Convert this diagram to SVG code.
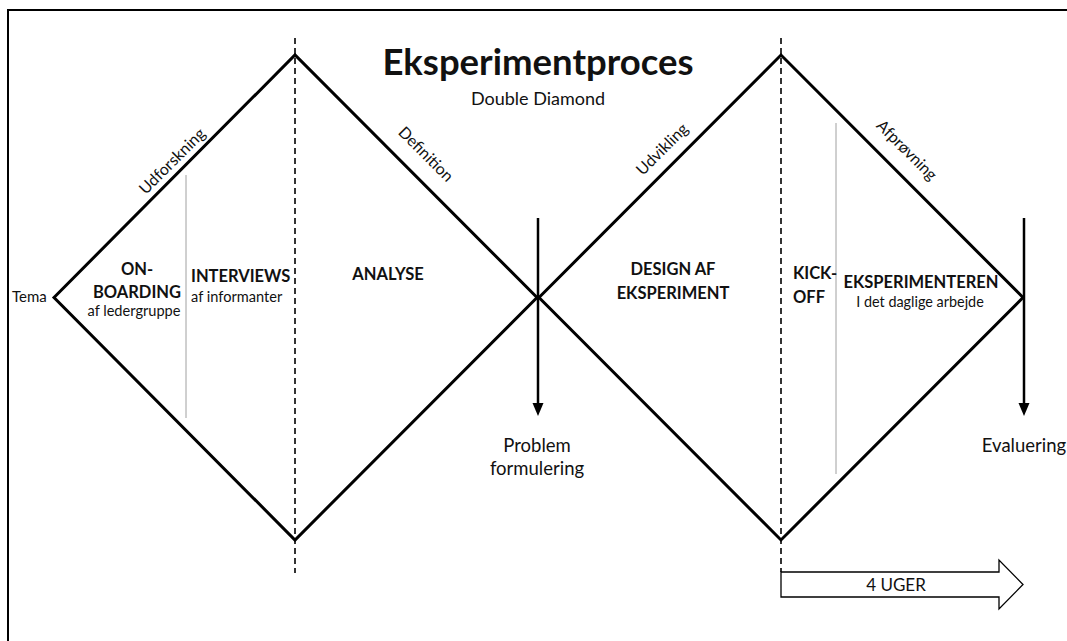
<svg xmlns="http://www.w3.org/2000/svg" width="1067" height="641" viewBox="0 0 1067 641">
  <style>
    text { font-family: Lato, "Open Sans", "Liberation Sans", sans-serif; fill: #111; }
    .title { font-size: 36.5px; font-weight: 700; text-anchor: middle; }
    .sub { font-size: 18px; text-anchor: middle; }
    .phase { font-size: 16px; text-anchor: middle; }
    .head { font-size: 16.5px; font-weight: 700; }
    .note { font-size: 14.6px; }
    .lbl { font-size: 18.5px; text-anchor: middle; }
    .mid { text-anchor: middle; }
    .diamond { fill: none; stroke: #000; stroke-width: 3; stroke-linejoin: miter; }
    .dash { stroke: #333; stroke-width: 2; stroke-dasharray: 6 4; fill: none; }
    .divider { stroke: #a0a0a0; stroke-width: 1; fill: none; }
    .shaft { stroke: #000; stroke-width: 2.5; fill: none; }
  </style>

  <rect width="1067" height="641" fill="#fff"/>
  <!-- outer frame (left and top edges) -->
  <path d="M8,641 V10 H1067" fill="none" stroke="#000" stroke-width="2"/>

  <g id="title">
    <text class="title" x="538" y="75">Eksperimentproces</text>
    <text class="sub" x="538" y="105">Double Diamond</text>
  </g>

  <g id="connectors">
    <!-- stage separators -->
    <line class="dash" x1="295" y1="38" x2="295" y2="573"/>
    <line class="dash" x1="781" y1="38" x2="781" y2="572"/>
    <!-- sub-phase dividers -->
    <line class="divider" x1="186" y1="175" x2="186" y2="418"/>
    <line class="divider" x1="836" y1="123" x2="836" y2="474"/>
    <!-- outcome arrows -->
    <line class="shaft" x1="538" y1="218" x2="538" y2="404"/>
    <path d="M532.5,403 L543.5,403 L538,416 Z" fill="#000"/>
    <line class="shaft" x1="1024" y1="218" x2="1024" y2="404"/>
    <path d="M1018.5,403 L1029.5,403 L1024,416 Z" fill="#000"/>
  </g>

  <g id="diamond-1">
    <path class="diamond" d="M54,297.5 L295,55 L537,297.5 L295,540 Z"/>
    <text class="phase" transform="translate(176,165) rotate(-45)">Udforskning</text>
    <text class="phase" transform="translate(422,158) rotate(45)">Definition</text>
  </g>

  <g id="diamond-2">
    <path class="diamond" d="M539,297.5 L781,55 L1023,297.5 L781,540 Z"/>
    <text class="phase" transform="translate(666,153) rotate(-45)">Udvikling</text>
    <text class="phase" transform="translate(903,154) rotate(45)">Afprøvning</text>
  </g>

  <g id="tema">
    <text class="note" x="12" y="302" style="font-size:15px">Tema</text>
  </g>

  <g id="onboarding">
    <text class="head mid" x="137" y="275">ON-</text>
    <text class="head mid" x="137" y="298">BOARDING</text>
    <text class="note mid" x="134" y="316">af ledergruppe</text>
  </g>

  <g id="interviews">
    <text class="head" x="191" y="282">INTERVIEWS</text>
    <text class="note" x="191" y="302">af informanter</text>
  </g>

  <g id="analyse">
    <text class="head mid" x="388" y="280">ANALYSE</text>
  </g>

  <g id="problemformulering">
    <text class="lbl" x="537" y="452">Problem</text>
    <text class="lbl" x="537" y="475">formulering</text>
  </g>

  <g id="design">
    <text class="head mid" x="673" y="275">DESIGN AF</text>
    <text class="head mid" x="673" y="299">EKSPERIMENT</text>
  </g>

  <g id="kickoff">
    <text class="head" x="793" y="279">KICK-</text>
    <text class="head" x="793" y="303">OFF</text>
  </g>

  <g id="eksperimenteren">
    <text class="head mid" x="921" y="288">EKSPERIMENTEREN</text>
    <text class="note mid" x="920" y="307" style="font-size:14.4px">I det daglige arbejde</text>
  </g>

  <g id="evaluering">
    <text class="lbl" x="1024" y="452">Evaluering</text>
  </g>

  <g id="duration">
    <path d="M781,572 H999 V560 L1023,584.5 L999,609 V597 H781 Z" fill="#fff" stroke="#000" stroke-width="1.3"/>
    <text class="lbl" x="896" y="591" style="font-size:17px">4 UGER</text>
  </g>
</svg>
